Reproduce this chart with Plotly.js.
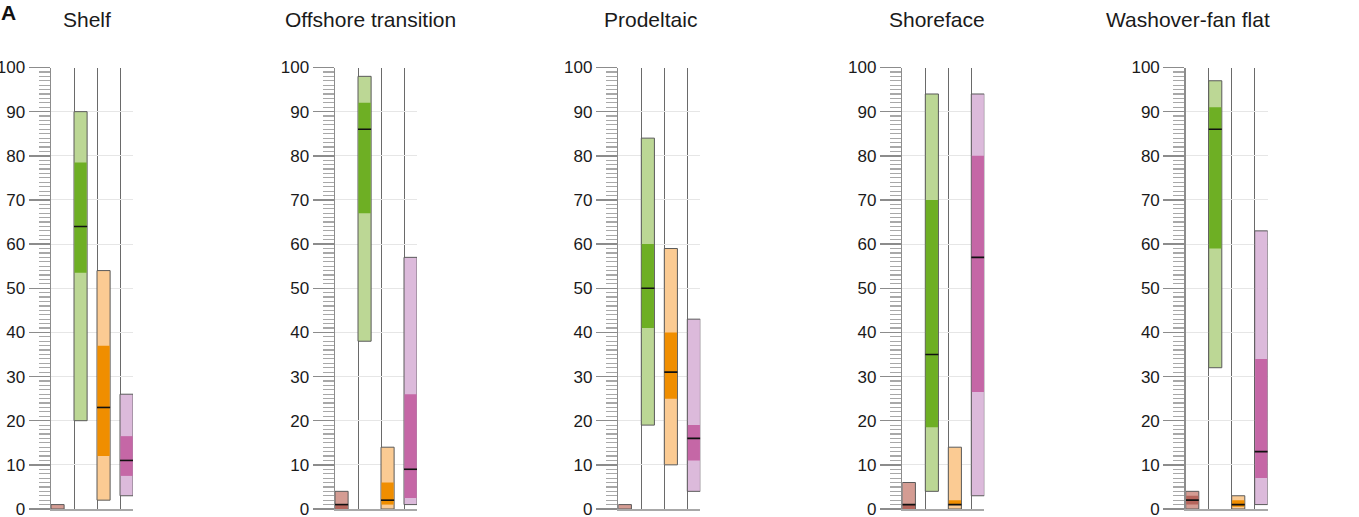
<!DOCTYPE html>
<html>
<head>
<meta charset="utf-8">
<script src="https://cdn.plot.ly/plotly-3.0.1.min.js"></script>
<style>
  html, body { margin: 0; padding: 0; background: #fff; }
  #chart { width: 1359px; height: 517px; }
</style>
</head>
<body>
<div id="chart"></div>
<script>
// Facies panels
const facies = ['Shelf', 'Offshore transition', 'Prodeltaic', 'Shoreface', 'Washover-fan flat'];

// Four component series per panel (brown, green, orange, purple); each row lists values per facies
const rangeLow  = [
  [0, 0, 0, 0, 0],
  [20, 38, 19, 4, 32],
  [2, 0, 10, 0, 0],
  [3, 1, 4, 3, 1]
];
const rangeHigh = [
  [1, 4, 1, 6, 4],
  [90, 98, 84, 94, 97],
  [54, 14, 59, 14, 3],
  [26, 57, 43, 94, 63]
];
const q1 = [
  [0, 0, 0, 0, 1],
  [53.5, 67, 41, 18.5, 59],
  [12, 1, 25, 1, 0.5],
  [7.5, 2.5, 11, 26.5, 7]
];
const q3 = [
  [0, 1, 0, 1, 3],
  [78.5, 92, 60, 70, 91],
  [37, 6, 40, 2, 2],
  [16.5, 26, 19, 80, 34]
];
const median = [
  [null, 1, null, 1, 2],
  [64, 86, 50, 35, 86],
  [23, 2, 31, 1, 1],
  [11, 9, 16, 57, 13]
];
const yTicks = [0, 10, 20, 30, 40, 50, 60, 70, 80, 90, 100];

// Styling
const lightColors = ['#d49c93', '#bcd795', '#fbcb93', '#dcbadb'];
const darkColors  = ['#b5655c', '#6eaf24', '#f08e00', '#c567a6'];

const W = 1359, H = 517;
const panelLeft = [51, 335, 618.3, 902.3, 1185.7];
const panelWidth = 82;
const colPx = 23;
const xMax = panelWidth / colPx;
const barW = 0.57;
const yBottomPx = 509, yTopPx = 67.5;
const yDomain = [(H - yBottomPx) / H, (H - yTopPx) / H];

const traces = [];
const layout = {
  width: W, height: H,
  margin: {l: 0, r: 0, t: 0, b: 0},
  paper_bgcolor: '#fff',
  plot_bgcolor: 'rgba(0,0,0,0)',
  showlegend: false,
  barmode: 'overlay',
  font: {family: 'Liberation Sans, Arial, sans-serif', color: '#1a1a1a'},
  annotations: [],
  shapes: []
};

const titleCenters = [86.5, 370, 650, 937, 1188];

facies.forEach((name, p) => {
  const xa = p === 0 ? 'x' : 'x' + (p + 1);
  const ya = p === 0 ? 'y' : 'y' + (p + 1);
  const xk = p === 0 ? 'xaxis' : 'xaxis' + (p + 1);
  const yk = p === 0 ? 'yaxis' : 'yaxis' + (p + 1);

  layout[xk] = {
    domain: [panelLeft[p] / W, (panelLeft[p] + panelWidth) / W],
    range: [0, xMax],
    anchor: ya,
    fixedrange: true,
    showticklabels: false,
    ticks: '',
    tickmode: 'array',
    tickvals: [1, 2, 3],
    showgrid: true,
    gridcolor: '#6a6a6a',
    gridwidth: 1,
    zeroline: false,
    showline: true,
    linecolor: '#a8a8a8',
    linewidth: 2
  };
  layout[yk] = {
    domain: yDomain,
    range: [0, 100],
    anchor: xa,
    fixedrange: true,
    tickmode: 'array',
    tickvals: yTicks,
    ticktext: yTicks.map(String),
    ticks: 'outside',
    ticklen: 21,
    tickwidth: 1.5,
    tickcolor: '#8c8c8c',
    ticklabeloverflow: 'allow',
    tickfont: {size: 17, color: '#1a1a1a', family: 'Liberation Sans, Arial, sans-serif'},
    showgrid: true,
    gridcolor: '#e6e6e6',
    gridwidth: 1,
    zeroline: false,
    showline: true,
    linecolor: '#8c8c8c',
    linewidth: 1.5,
    minor: {dtick: 1, tick0: 0, ticks: 'outside', ticklen: 11, tickwidth: 1.2, tickcolor: '#a8a8a8', showgrid: false}
  };

  for (let s = 0; s < 4; s++) {
    const xc = s + barW / 2;
    // full range
    traces.push({
      type: 'bar', xaxis: xa, yaxis: ya,
      x: [xc], base: [rangeLow[s][p]], y: [rangeHigh[s][p] - rangeLow[s][p]],
      width: [barW],
      marker: {color: lightColors[s], line: {color: '#5a5a5a', width: 1}},
      hoverinfo: 'skip'
    });
    // interquartile band
    const dh = q3[s][p] - q1[s][p];
    if (dh > 0) {
      traces.push({
        type: 'bar', xaxis: xa, yaxis: ya,
        x: [xc], base: [q1[s][p]], y: [dh],
        width: [barW - 0.04],
        marker: {color: darkColors[s], line: {width: 0}},
        hoverinfo: 'skip'
      });
    }
    // median
    if (median[s][p] !== null) {
      traces.push({
        type: 'scatter', mode: 'lines', xaxis: xa, yaxis: ya,
        x: [s, s + barW], y: [median[s][p], median[s][p]],
        line: {color: '#111', width: 1.6},
        hoverinfo: 'skip'
      });
    }
  }

  layout.annotations.push({
    xref: 'paper', yref: 'paper',
    x: titleCenters[p] / W, y: (H - 20) / H,
    xanchor: 'center', yanchor: 'middle',
    text: name, showarrow: false,
    font: {size: 21, color: '#1a1a1a', family: 'Liberation Sans, Arial, sans-serif'}
  });
});

layout.annotations.push({
  xref: 'paper', yref: 'paper',
  x: 0, y: 1, xanchor: 'left', yanchor: 'top',
  borderpad: 0,
  text: '<b>A</b>', showarrow: false,
  font: {size: 21, color: '#111', family: 'Liberation Sans, Arial, sans-serif'}
});

Plotly.newPlot('chart', traces, layout, {staticPlot: true, displayModeBar: false});
</script>
</body>
</html>
